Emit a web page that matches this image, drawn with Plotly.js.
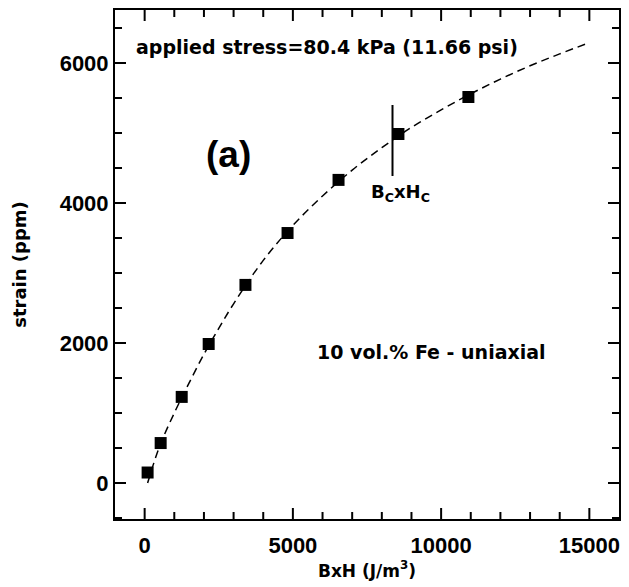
<!DOCTYPE html>
<html>
<head>
<meta charset="utf-8">
<script src="https://cdn.plot.ly/plotly-3.0.1.min.js"></script>
<style>
  html, body { margin: 0; padding: 0; background: #fff; }
  #chart { width: 629px; height: 587px; }
</style>
</head>
<body>
<div id="chart"></div>
<script>
// Measured strain vs. magnetic energy density (B x H)
const bxh    = [100, 540, 1250, 2160, 3400, 4820, 6540, 8560, 10920];
const strain = [150, 571, 1230, 1986, 2830, 3571, 4330, 4986, 5514];

// Fitted trend line drawn as a dashed curve
const fitX = [100, 500, 1000, 1500, 2000, 2500, 3000, 4000, 5000, 6000, 7000, 8000, 9000, 10000, 11000, 12000, 13000, 14000, 15000];
const fitY = [0, 520, 1000, 1430, 1840, 2210, 2560, 3180, 3680, 4100, 4470, 4790, 5080, 5330, 5560, 5770, 5960, 6130, 6290];

// Axis tick positions and labels
const xTickVals = [0, 5000, 10000, 15000];
const xTickText = ['0', '5000', '10000', '15000'];
const yTickVals = [0, 2000, 4000, 6000];
const yTickText = ['0', '2000', '4000', '6000'];
const xMinorStep = 1000;
const yMinorStep = 500;

// Saturation product marker
const bcHcX = 8360;
const bcHcY = [4386, 5400];

const X_RANGE = [-1000, 16000];
const Y_RANGE = [-514, 6757];

const W = 629, H = 587;
const MARGIN = { l: 115, r: 10, t: 10, b: 68 };

const SANS = 'Liberation Sans, Arial, sans-serif';
const WIDE = 'DejaVu Sans, sans-serif';
const boldFont = (family, size) => ({ family: family, size: size, color: '#000', weight: 'bold' });

const traces = [
  {
    x: fitX, y: fitY, type: 'scatter', mode: 'lines',
    line: { color: '#000', width: 1.5, dash: '8px,5px', shape: 'spline', smoothing: 1 },
    hoverinfo: 'skip'
  },
  {
    x: bxh, y: strain, type: 'scatter', mode: 'markers',
    marker: { symbol: 'square', size: 12, color: '#000' }
  }
];

// Inward tick marks on all four sides of the frame, placed in data units.
// Tick lengths are given in pixels and converted with the axis scale.
function tickShapes() {
  const out = [];
  const tick = { color: '#000', width: 2 };
  const xPerPx = (X_RANGE[1] - X_RANGE[0]) / (W - MARGIN.l - MARGIN.r);
  const yPerPx = (Y_RANGE[1] - Y_RANGE[0]) / (H - MARGIN.t - MARGIN.b);
  const stepsInside = (range, step) => {
    const vals = [];
    for (let v = Math.ceil(range[0] / step) * step; v <= range[1]; v += step) {
      if (v > range[0] && v < range[1]) vals.push(v);
    }
    return vals;
  };
  const xMajor = new Set(xTickVals);
  const yMajor = new Set(yTickVals);
  stepsInside(X_RANGE, xMinorStep).forEach(v => {
    const len = (xMajor.has(v) ? 11 : 7) * yPerPx;
    out.push({ type: 'line', xref: 'x', yref: 'y', x0: v, x1: v,
               y0: Y_RANGE[0], y1: Y_RANGE[0] + len, line: tick });
    out.push({ type: 'line', xref: 'x', yref: 'y', x0: v, x1: v,
               y0: Y_RANGE[1] - len, y1: Y_RANGE[1], line: tick });
  });
  stepsInside(Y_RANGE, yMinorStep).forEach(v => {
    const len = (yMajor.has(v) ? 11 : 7) * xPerPx;
    out.push({ type: 'line', xref: 'x', yref: 'y', y0: v, y1: v,
               x0: X_RANGE[0], x1: X_RANGE[0] + len, line: tick });
    out.push({ type: 'line', xref: 'x', yref: 'y', y0: v, y1: v,
               x0: X_RANGE[1] - len, x1: X_RANGE[1], line: tick });
  });
  return out;
}

const axisCommon = {
  showgrid: false, zeroline: false, showline: true, linecolor: '#000', linewidth: 2,
  mirror: true, ticks: '', tickmode: 'array', tickfont: boldFont(SANS, 22)
};

const layout = {
  width: W, height: H,
  margin: MARGIN,
  paper_bgcolor: '#fff', plot_bgcolor: '#fff',
  showlegend: false,
  xaxis: Object.assign({}, axisCommon, {
    range: X_RANGE, tickvals: xTickVals, ticktext: xTickText, ticklabelstandoff: 6,
    title: { text: 'BxH (J/m<sup>3</sup>)', font: boldFont(WIDE, 17), standoff: 6 }
  }),
  yaxis: Object.assign({}, axisCommon, {
    range: Y_RANGE, tickvals: yTickVals, ticktext: yTickText,
    title: { text: 'strain (ppm)', font: boldFont(WIDE, 18), standoff: 28 }
  }),
  shapes: [
    { type: 'line', xref: 'x', yref: 'y', x0: bcHcX, x1: bcHcX, y0: bcHcY[0], y1: bcHcY[1],
      line: { color: '#000', width: 2 } }
  ].concat(tickShapes()),
  annotations: [
    { text: 'applied stress=80.4 kPa (11.66 psi)', xref: 'x', yref: 'y', x: -370, y: 6230,
      xanchor: 'left', yanchor: 'middle', showarrow: false, font: boldFont(WIDE, 19) },
    { text: '(a)', xref: 'x', yref: 'y', x: 2830, y: 4686,
      xanchor: 'center', yanchor: 'middle', showarrow: false, font: boldFont(SANS, 37) },
    { text: 'B<sub>C</sub>xH<sub>C</sub>', xref: 'x', yref: 'y', x: 8630, y: 4143,
      xanchor: 'center', yanchor: 'middle', showarrow: false, font: boldFont(WIDE, 18) },
    { text: '10 vol.% Fe - uniaxial', xref: 'x', yref: 'y', x: 9670, y: 1871,
      xanchor: 'center', yanchor: 'middle', showarrow: false, font: boldFont(WIDE, 19) }
  ]
};

Plotly.newPlot('chart', traces, layout, { displayModeBar: false, staticPlot: true });
</script>
</body>
</html>
